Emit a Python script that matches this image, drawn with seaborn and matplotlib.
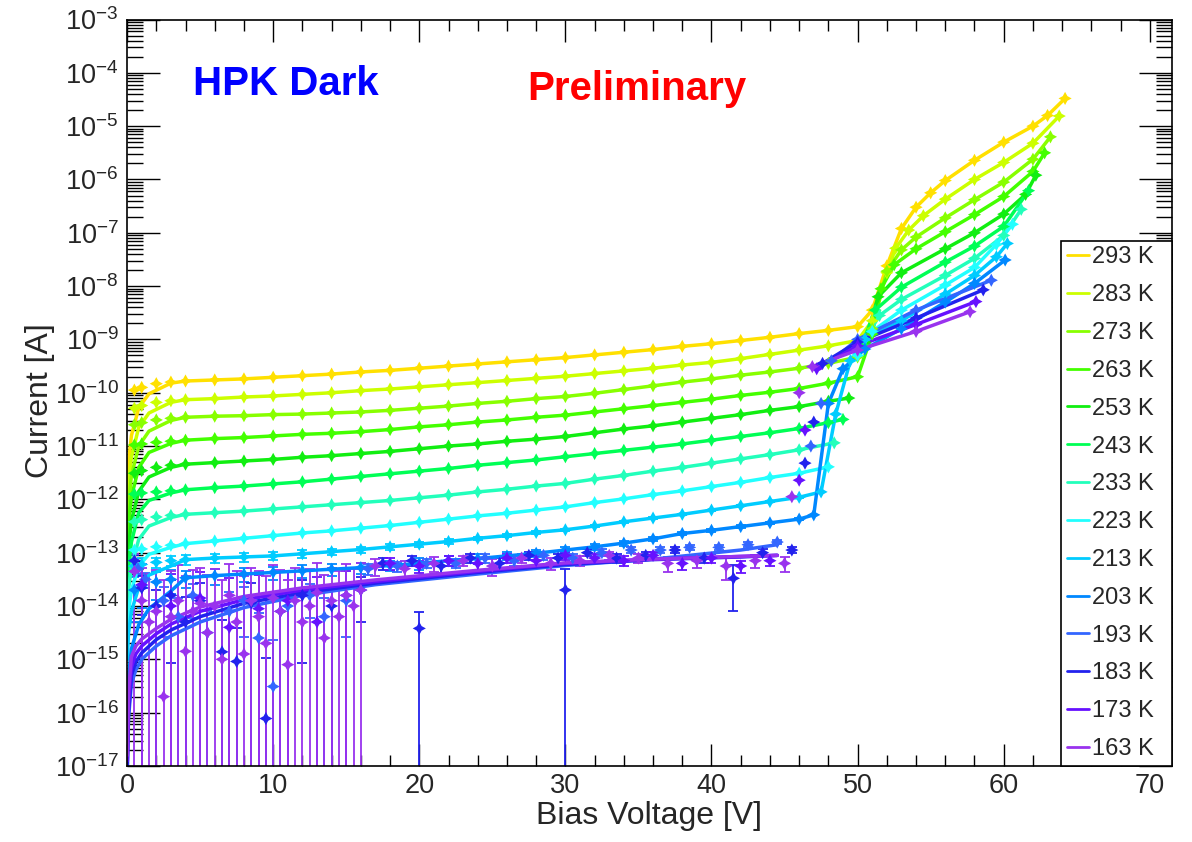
import numpy as np
import pandas as pd
import matplotlib
matplotlib.use("Agg")
import matplotlib.pyplot as plt
from matplotlib.ticker import LogLocator, MultipleLocator, LogFormatterSciNotation, NullFormatter
import seaborn as sns

# ---------------- data (log10 of current in A) ----------------
TEMPS = [293, 283, 273, 263, 253, 243, 233, 223, 213, 203, 193, 183, 173, 163]

V_FLAT = [0.5, 1, 2, 3, 4, 6, 8, 10, 12, 14, 16, 18, 20, 22, 24, 26, 28, 30, 32, 34, 36, 38, 40, 42, 44, 46]
V_FIT0 = [0.02, 0.1, 0.3, 0.8, 1.5, 3]

FLAT_293 = [-9.95, -9.90, -9.83, -9.80, -9.78, -9.76, -9.74, -9.71, -9.68, -9.65, -9.61, -9.58, -9.54, -9.50, -9.46, -9.42, -9.38, -9.34, -9.29, -9.24, -9.19, -9.13, -9.08, -9.02, -8.96, -8.89]
FIT0_293 = [-11.80, -11.30, -10.80, -10.28, -10.02, -9.82]
BD_V_293 = [48, 50, 51, 52, 53, 54, 55, 56, 58, 60, 62, 63, 64.2]
BD_293 = [-8.83, -8.76, -8.45, -7.62, -6.92, -6.52, -6.25, -6.02, -5.64, -5.30, -5.00, -4.80, -4.48]

FLAT_283 = [-10.29, -10.24, -10.18, -10.15, -10.13, -10.11, -10.08, -10.06, -10.03, -10.00, -9.96, -9.93, -9.89, -9.85, -9.81, -9.77, -9.73, -9.69, -9.64, -9.59, -9.54, -9.48, -9.43, -9.36, -9.28, -9.20]
FIT0_283 = [-12.20, -11.70, -11.20, -10.65, -10.38, -10.18]
BD_V_283 = [48, 50, 51, 52, 52.6, 53.5, 54.5, 56, 58, 60, 62, 63.8]
BD_283 = [-9.12, -9.02, -8.65, -7.75, -7.29, -6.95, -6.68, -6.37, -6.00, -5.68, -5.32, -4.81]

FLAT_273 = [-10.60, -10.56, -10.51, -10.48, -10.46, -10.44, -10.43, -10.41, -10.40, -10.38, -10.36, -10.33, -10.29, -10.25, -10.20, -10.16, -10.11, -10.07, -10.01, -9.94, -9.87, -9.80, -9.74, -9.67, -9.61, -9.54]
FIT0_273 = [-12.60, -12.10, -11.55, -11.00, -10.72, -10.52]
BD_V_273 = [48, 50, 51, 52, 53, 54, 56, 58, 60, 62, 63.2]
BD_273 = [-9.45, -9.33, -8.80, -7.72, -7.32, -7.08, -6.72, -6.38, -6.05, -5.62, -5.20]

FLAT_263 = [-10.98, -10.96, -10.93, -10.91, -10.89, -10.86, -10.84, -10.81, -10.78, -10.76, -10.73, -10.69, -10.64, -10.60, -10.55, -10.51, -10.46, -10.42, -10.36, -10.30, -10.24, -10.18, -10.12, -10.05, -9.99, -9.92]
FIT0_263 = [-13.00, -12.45, -11.95, -11.40, -11.12, -10.95]
BD_V_263 = [48, 50, 51, 51.6, 52.5, 54, 56, 58, 60, 62, 62.8]
BD_263 = [-9.82, -9.70, -8.90, -8.05, -7.60, -7.30, -6.98, -6.66, -6.32, -5.85, -5.50]

FLAT_253 = [-11.51, -11.46, -11.40, -11.36, -11.34, -11.31, -11.28, -11.25, -11.21, -11.18, -11.14, -11.10, -11.05, -11.00, -10.96, -10.91, -10.87, -10.82, -10.75, -10.68, -10.62, -10.55, -10.48, -10.41, -10.33, -10.26]
FIT0_253 = [-13.40, -12.90, -12.40, -11.85, -11.58, -11.40]
BD_V_253 = [48, 49.4, 50.5, 51.4, 53, 56, 58, 60, 61.5, 62.2]
BD_253 = [-10.16, -10.10, -9.05, -8.20, -7.75, -7.30, -7.00, -6.65, -6.28, -5.92]

FLAT_243 = [-11.90, -11.88, -11.86, -11.84, -11.82, -11.78, -11.75, -11.71, -11.67, -11.62, -11.57, -11.52, -11.47, -11.42, -11.36, -11.31, -11.26, -11.20, -11.14, -11.08, -11.02, -10.96, -10.89, -10.82, -10.75, -10.67]
FIT0_243 = [-13.80, -13.30, -12.80, -12.25, -12.02, -11.88]
BD_V_243 = [48, 49, 50.3, 51.2, 53, 56, 58, 60, 61.7]
BD_243 = [-10.56, -10.50, -9.10, -8.45, -8.02, -7.55, -7.25, -6.88, -6.21]

FLAT_233 = [-12.42, -12.38, -12.33, -12.30, -12.28, -12.25, -12.22, -12.18, -12.14, -12.10, -12.06, -12.02, -11.97, -11.92, -11.86, -11.81, -11.75, -11.70, -11.62, -11.55, -11.47, -11.40, -11.32, -11.24, -11.16, -11.07]
FIT0_233 = [-14.20, -13.70, -13.25, -12.75, -12.50, -12.34]
BD_V_233 = [48.4, 50.5, 51.5, 53, 56, 58, 60, 61.2]
BD_233 = [-10.94, -9.00, -8.55, -8.25, -7.80, -7.48, -7.05, -6.56]

FLAT_223 = [-12.95, -12.93, -12.89, -12.86, -12.83, -12.78, -12.73, -12.68, -12.63, -12.59, -12.54, -12.49, -12.43, -12.37, -12.31, -12.26, -12.20, -12.14, -12.06, -11.99, -11.91, -11.84, -11.76, -11.68, -11.59, -11.51]
FIT0_223 = [-14.60, -14.10, -13.70, -13.25, -13.03, -12.90]
BD_V_223 = [48, 50, 51, 53, 56, 58, 59.5, 60.6]
BD_223 = [-11.39, -9.30, -8.85, -8.45, -7.98, -7.65, -7.22, -6.84]

FLAT_213 = [-13.25, -13.22, -13.18, -13.15, -13.13, -13.10, -13.08, -13.06, -13.02, -12.98, -12.94, -12.89, -12.84, -12.79, -12.73, -12.68, -12.62, -12.57, -12.50, -12.42, -12.35, -12.28, -12.20, -12.12, -12.04, -11.96]
ERR_213 = [2.0, 2.0, 1.5, 1.5, 1.5, 1.5, 1.5, 1.5, 1.5, 1.5, 1.5, 1.5, 1.5, 1.5, 1.5, 1.5, 1.5, 1.5, 1.5, 1.5, 1.5, 1.5, 1.5, 1.5, 1.5, 1.5]
FIT0_213 = [-15.00, -14.50, -14.10, -13.65, -13.42, -13.25]
BD_V_213 = [47.5, 48.5, 49.5, 50.5, 53, 56, 58, 59.5, 60.25]
BD_213 = [-11.86, -10.40, -9.40, -9.00, -8.65, -8.15, -7.80, -7.45, -7.20]

FLAT_203 = [-13.70, -13.62, -13.55, -13.50, -13.47, -13.43, -13.40, -13.37, -13.34, -13.31, -13.28, -13.24, -13.20, -13.15, -13.11, -13.06, -13.01, -12.95, -12.89, -12.82, -12.74, -12.64, -12.58, -12.51, -12.44, -12.37]
ERR_203 = [1.5, 1.5, 1.5, 1.5, 1.2, 1.2, 1.2, 1.2, 1.2, 1.2, 1.2, 1.2, 1.5, 1.5, 1.5, 1.5, 1.5, 1.5, 1.5, 1.5, 1.5, 1.5, 1.5, 1.5, 1.5, 1.5]
FIT0_203 = [-16.00, -15.30, -14.80, -14.35, -14.05, -13.72]
BD_V_203 = [47, 48, 49, 50.5, 53, 56, 58, 60.1]
BD_203 = [-12.29, -10.20, -9.55, -9.18, -8.80, -8.30, -7.95, -7.51]

# cold series: fit curve, breakdown branch, scattered measurements (errors in units of 1e-14 A)
FIT_V_COLD = [0.02, 0.1, 0.3, 0.6, 1, 2, 3, 5, 8, 12, 17, 24, 30, 36, 42, 44.5]
FIT_193 = [-17.0, -16.1, -15.45, -15.20, -15.00, -14.75, -14.56, -14.30, -14.03, -13.80, -13.60, -13.40, -13.24, -13.12, -12.95, -12.85]
FIT_183 = [-17.0, -16.0, -15.30, -15.05, -14.88, -14.63, -14.45, -14.20, -13.95, -13.75, -13.57, -13.37, -13.22, -13.13, -13.08, -13.05]
FIT_173 = [-16.9, -15.8, -15.15, -14.90, -14.75, -14.52, -14.34, -14.10, -13.88, -13.70, -13.54, -13.35, -13.20, -13.12, -13.07, -13.05]
FIT_163 = [-16.8, -15.6, -14.95, -14.75, -14.62, -14.42, -14.25, -14.02, -13.82, -13.66, -13.51, -13.33, -13.19, -13.12, -13.07, -13.05]

BD_V_193 = [46.8, 47.5, 48.2, 50, 54, 59.15]
BD_193 = [-11.00, -10.20, -9.40, -9.00, -8.45, -7.89]
BD_V_183 = [46.4, 47, 47.6, 50, 54, 58.6]
BD_183 = [-11.32, -10.55, -9.45, -9.05, -8.60, -8.07]
BD_V_173 = [46, 46.4, 47.2, 50, 54, 58.1]
BD_173 = [-11.64, -10.70, -9.55, -9.12, -8.72, -8.29]
BD_V_163 = [45.5, 46, 46.9, 50, 54, 57.7]
BD_163 = [-11.95, -10.00, -9.51, -9.20, -8.85, -8.48]

# where the drawn curve stops (before the jump) and where it starts again
LINE_STOP = {253: 49.4, 243: 49, 233: 48.4, 223: 48, 193: 44.5, 183: 44.5, 173: 44.5, 163: 44.5}
LINE_RESUME = {253: 50.5, 243: 50.3, 233: 50.5, 223: 50, 193: 48.2, 183: 47.6, 173: 47.2, 163: 46.9}

DV_193 = [0.75, 1.25, 2.5, 3.5, 4.5, 5.5, 7, 8, 9, 10, 11, 12.5, 13.5, 15,
          16.5, 18.5, 20.5, 22.5, 24.5, 26.5, 28.5, 30.5, 32.5, 34.5, 36.5, 38.5, 40.5, 42.5, 44.5]
D_193 = [-13.3, -13.5, -13.9, -14.2, -13.8, -14.5, -14.1, -13.9, -14.6, -15.51, -14.0, -13.8, -14.2, -13.9,
         -13.3, -13.25, -13.2, -13.2, -13.1, -13.15, -13.05, -13.1, -13.0, -12.95, -12.95, -12.9, -12.9, -12.85, -12.8]
E_193 = [1.0, 1.0, 1.0, 0.8, 1.0, 0.5, 1.0, 1.0, 0.5, 0.2, 1.0, 1.0, 0.8, 1.0,
         1.2, 1.2, 1.2, 1.2, 1.5, 1.5, 1.5, 1.5, 1.5, 1.5, 1.5, 1.5, 1.5, 1.5, 1.5]

DV_183 = [0.5, 1, 2, 3, 4, 5, 6.5, 7.5, 8.5, 9.5, 10.5, 12, 14, 16,
          17.5, 19.5, 20, 21.5, 23.5, 25.5, 27.5, 29.5, 30, 31.5, 33.5, 35.5, 37.5, 39.5, 41.5, 43.5, 45.5]
D_183 = [-13.15, -13.66, -14.0, -13.8, -14.3, -13.9, -14.86, -15.04, -13.94, -16.11, -14.1, -13.8, -14.0, -13.7,
         -13.2, -13.15, -14.42, -13.25, -13.1, -13.2, -13.05, -13.1, -13.70, -13.0, -13.1, -13.05, -12.95, -13.1, -13.48, -13.0, -12.95]
E_183 = [2.0, 1.5, 1.0, 1.5, 1.0, 1.5, 0.4, 0.3, 1.5, 0.1, 1.0, 1.5, 1.0, 1.5,
         1.5, 1.5, 0.4, 1.5, 1.5, 1.5, 1.5, 1.5, 3.0, 1.5, 1.5, 1.5, 1.5, 1.5, 2.5, 1.5, 1.5]

DV_173 = [1, 3, 5, 7, 9, 11, 13, 15,
          18, 20, 22, 24, 26, 28, 30, 32, 34, 36, 38, 40, 42, 44]
D_173 = [-13.6, -14.0, -13.85, -14.4, -14.05, -13.9, -14.3, -13.8,
         -13.20, -13.25, -13.15, -13.20, -13.10, -13.15, -13.05, -13.10, -13.15, -13.05, -13.20, -13.10, -13.25, -13.15]
E_173 = [3.5, 3.0, 3.0, 3.0, 3.0, 3.0, 3.0, 3.0,
         1.5, 1.5, 1.5, 1.5, 1.5, 1.5, 1.5, 1.5, 1.5, 1.5, 1.5, 1.5, 1.5, 1.5]

DV_163 = [0.5, 1, 1.5, 2, 2.5, 3, 3.5, 4, 4.5, 5, 5.5, 6, 6.5, 7, 7.5, 8, 8.5, 9, 9.5, 10, 10.5, 11, 11.5, 12,
          12.5, 13, 13.5, 14, 14.5, 15, 15.5, 16,
          17, 19, 21, 23, 25, 27, 29, 31, 33, 35, 37, 39, 41, 43, 45]
D_163 = [-13.35, -13.90, -14.30, -14.10, -15.70, -14.20, -13.90, -14.85, -14.10, -13.95, -14.50, -14.00, -15.00, -13.80,
         -14.30, -14.90, -13.90, -14.20, -14.70, -13.85, -14.10, -15.10, -13.90, -14.30, -14.00, -13.75, -14.60, -13.90,
         -14.20, -13.80, -14.00, -13.70,
         -13.25, -13.30, -13.20, -13.15, -13.25, -13.10, -13.20, -13.15, -13.05, -13.10, -13.20, -13.15, -13.25, -13.15, -13.20]
E_163 = [5.0, 4.0, 3.5, 4.0, 3.0, 4.0, 4.5, 3.5, 4.0, 4.0, 3.5, 4.0, 3.0, 4.5, 4.0, 3.5, 4.0, 4.0, 3.5, 4.5, 4.0, 3.0,
         4.0, 4.0, 4.0, 4.5, 3.5, 4.0, 4.0, 4.5, 4.0, 4.5,
         2.0, 2.0, 2.0, 1.5, 2.0, 1.5, 1.5, 1.5, 1.5, 1.5, 2.0, 2.0, 2.5, 2.0, 2.0]

COLORS = {293: "#FFE000", 283: "#CCFF00", 273: "#88FF00", 263: "#44FF00", 253: "#11EE11",
          243: "#00FF55", 233: "#22FFBB", 223: "#22FFFF", 213: "#00CCFF", 203: "#0088FF",
          193: "#3366FF", 183: "#2222EE", 173: "#6611FF", 163: "#9933EE"}

WARM = {293: (FIT0_293, FLAT_293, BD_V_293, BD_293, None),
        283: (FIT0_283, FLAT_283, BD_V_283, BD_283, None),
        273: (FIT0_273, FLAT_273, BD_V_273, BD_273, None),
        263: (FIT0_263, FLAT_263, BD_V_263, BD_263, None),
        253: (FIT0_253, FLAT_253, BD_V_253, BD_253, None),
        243: (FIT0_243, FLAT_243, BD_V_243, BD_243, None),
        233: (FIT0_233, FLAT_233, BD_V_233, BD_233, None),
        223: (FIT0_223, FLAT_223, BD_V_223, BD_223, None),
        213: (FIT0_213, FLAT_213, BD_V_213, BD_213, ERR_213),
        203: (FIT0_203, FLAT_203, BD_V_203, BD_203, ERR_203)}
COLD = {193: (FIT_193, BD_V_193, BD_193, DV_193, D_193, E_193),
        183: (FIT_183, BD_V_183, BD_183, DV_183, D_183, E_183),
        173: (FIT_173, BD_V_173, BD_173, DV_173, D_173, E_173),
        163: (FIT_163, BD_V_163, BD_163, DV_163, D_163, E_163)}

# ---------------- assemble long tables ----------------
line_rows, pt_rows, err_sets = [], [], []
for T in TEMPS:
    lab = f"{T} K"
    if T in WARM:
        fit0, flat, bdv, bd, err = WARM[T]
        lv = list(V_FIT0) + [v for v in V_FLAT if v >= 4] + list(bdv)
        ll = list(fit0) + [y for v, y in zip(V_FLAT, flat) if v >= 4] + list(bd)
        pv = list(V_FLAT) + list(bdv)
        pl = list(flat) + list(bd)
        if err is not None:
            err_sets.append((T, np.array(V_FLAT, float), 10.0 ** np.array(flat), np.array(err) * 1e-14))
    else:
        fit, bdv, bd, dv, d, e = COLD[T]
        lv = list(FIT_V_COLD) + list(bdv)
        ll = list(fit) + list(bd)
        pv = list(dv) + list(bdv)
        pl = list(d) + list(bd)
        err_sets.append((T, np.array(dv, float), 10.0 ** np.array(d), np.array(e) * 1e-14))
    stop = LINE_STOP.get(T, 1e9)
    resume = LINE_RESUME.get(T, 1e9)
    for i, (v, y) in enumerate(zip(lv, ll)):
        if stop < v < resume:
            continue
        seg = 1 if v >= resume else 0
        line_rows.append({"label": lab, "unit": f"{lab}-{seg}", "V": v, "I": 10.0 ** y})
    for v, y in zip(pv, pl):
        pt_rows.append({"label": lab, "V": v, "I": 10.0 ** y})

lines = pd.DataFrame(line_rows)
pts = pd.DataFrame(pt_rows)
LABELS = [f"{T} K" for T in TEMPS]
PAL = {f"{T} K": COLORS[T] for T in TEMPS}

# ---------------- style ----------------
sns.set_theme(style="ticks")
plt.rcParams["font.family"] = ["Liberation Sans", "DejaVu Sans"]
plt.rcParams["mathtext.fontset"] = "custom"
plt.rcParams["mathtext.rm"] = "Liberation Sans"
plt.rcParams["mathtext.it"] = "Liberation Sans:italic"
plt.rcParams["mathtext.bf"] = "Liberation Sans:bold"
plt.rcParams["axes.linewidth"] = 1.2

fig, ax = plt.subplots(figsize=(11.92, 8.42), dpi=100)
fig.subplots_adjust(left=0.1066, right=0.983, bottom=0.0903, top=0.9768)
ax.set_yscale("log")

for T, v, i, s in err_sets:
    ax.errorbar(v, i, yerr=[s, s], fmt="none", ecolor=COLORS[T], elinewidth=1.3,
                capsize=3.5, capthick=1.3, zorder=1)

sns.lineplot(data=lines, x="V", y="I", hue="label", hue_order=LABELS, palette=PAL,
             sort=False, estimator=None, units="unit", linewidth=2.5, ax=ax, zorder=2)
sns.scatterplot(data=pts, x="V", y="I", hue="label", hue_order=LABELS, palette=PAL,
                marker=(4, 1, 0), s=90, linewidth=0, ax=ax, legend=False, zorder=3)

ax.set_xlim(0, 71.5)
ax.set_ylim(1e-17, 1e-3)
ax.xaxis.set_major_locator(MultipleLocator(10))
ax.xaxis.set_minor_locator(MultipleLocator(2))
ax.yaxis.set_major_locator(LogLocator(base=10, numticks=30))
ax.yaxis.set_minor_locator(LogLocator(base=10, subs=np.arange(2, 10), numticks=300))
ax.yaxis.set_major_formatter(LogFormatterSciNotation())
ax.yaxis.set_minor_formatter(NullFormatter())

ax.tick_params(which="both", direction="in", top=True, right=True, width=1.0, color="black")
ax.tick_params(axis="x", which="major", length=15.8, labelsize=19.5, pad=5)
ax.tick_params(axis="x", which="minor", length=8)
ax.tick_params(axis="y", which="major", length=23.8, labelsize=19.5, pad=6)
ax.tick_params(axis="y", which="minor", length=11.5)
for sp in ax.spines.values():
    sp.set_color("black")
    sp.set_linewidth(1.2)

ax.set_xlabel("Bias Voltage [V]", fontsize=23)
ax.set_ylabel("Current [A]", fontsize=23)
ax.xaxis.set_label_coords(0.5, -0.047)
ax.yaxis.set_label_coords(-0.069, 0.49)

handles, labels = ax.get_legend_handles_labels()
for h in handles:
    h.set_linewidth(2.0)
leg = ax.legend(handles, labels, loc="lower left", bbox_to_anchor=(0.894, 0.0, 0.106, 0.71),
                mode="expand", borderaxespad=0, frameon=True, fancybox=False, framealpha=1,
                edgecolor="black", fontsize=17, handlelength=0.95, handletextpad=0.12,
                labelspacing=0.67, borderpad=0.25)
leg.get_frame().set_linewidth(1.2)

fig.text(193 / 1192, 1 - 95 / 842, "HPK Dark", color="#0000FF", fontsize=29,
         fontweight="bold", ha="left", va="baseline")
fig.text(527 / 1192, 1 - 100 / 842, "Preliminary", color="#FF0000", fontsize=29,
         fontweight="bold", ha="left", va="baseline")

fig.savefig("out.png", dpi=100, facecolor="white")
